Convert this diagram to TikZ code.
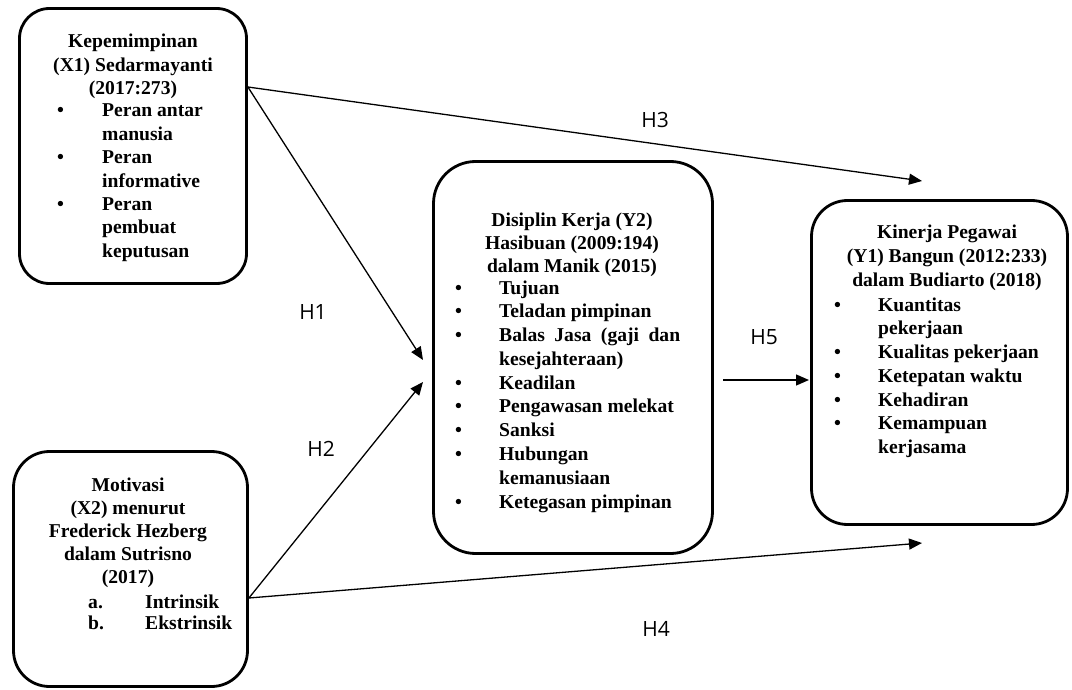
\documentclass[tikz,border=0pt]{standalone}
\usepackage{fontspec}
\setmainfont{Liberation Serif}
\newfontfamily\hfont{Open Sans}
\usetikzlibrary{arrows.meta,calc}
\begin{document}
\begin{tikzpicture}[x=1pt,y=-1pt,
  box/.style={draw, line width=2.8pt, inner sep=0pt},
  head/.style={inner sep=0pt, anchor=base, font=\bfseries\fontsize{19.6}{23.4}\selectfont},
  lst/.style={inner sep=0pt, anchor=base west, font=\bfseries\fontsize{19.6}{23.4}\selectfont},
  lstw/.style={inner sep=0pt, anchor=base west, font=\bfseries\fontsize{19.6}{23.8}\selectfont},
  arr/.style={line width=1.3pt, -{Triangle[length=13pt,width=11pt]}},
  hlab/.style={font=\hfont\fontsize{21}{25}\selectfont, inner sep=0pt}]
\useasboundingbox (0,0) rectangle (1072,690);

% boxes
\node[box, rounded corners=30pt, minimum width=227pt, minimum height=275pt] (A) at (133,146) {};
\node[box, rounded corners=36pt, minimum width=234pt, minimum height=235pt] (B) at (130.5,569) {};
\node[box, rounded corners=42pt, minimum width=279pt, minimum height=392pt] (C) at (573,357.5) {};
\node[box, rounded corners=36pt, minimum width=256pt, minimum height=324pt] (D) at (939.5,362.5) {};

% box A text
\node[head] (Ah) at (133,48) {\begin{tabular}[t]{@{}c@{}}Kepemimpinan\\(X1) Sedarmayanti\\(2017:273)\end{tabular}};
\node[lst] (Al) at (57,117) {\begin{tabular}[t]{@{}p{45pt}@{}l@{}}
\textbullet & Peran antar\\ & manusia\\
\textbullet & Peran\\ & informative\\
\textbullet & Peran\\ & pembuat\\ & keputusan\end{tabular}};

% box B text
\node[head, font=\bfseries\fontsize{19.6}{23.2}\selectfont] (Bh) at (128,491) {\begin{tabular}[t]{@{}c@{}}Motivasi\\(X2) menurut\\Frederick Hezberg\\dalam Sutrisno\\(2017)\end{tabular}};
\node[lst, font=\bfseries\fontsize{19.6}{21.5}\selectfont] (Bl) at (88,608) {\begin{tabular}[t]{@{}p{57pt}@{}l@{}}
a. & Intrinsik\\ b. & Ekstrinsik\end{tabular}};

% box C text
\node[head] (Ch) at (572,226) {\begin{tabular}[t]{@{}c@{}}Disiplin Kerja (Y2)\\Hasibuan (2009:194)\\dalam Manik (2015)\end{tabular}};
\node[lstw] (Cl) at (455,294) {\begin{tabular}[t]{@{}p{44pt}@{}l@{}}
\textbullet & Tujuan\\
\textbullet & Teladan pimpinan\\
\textbullet & \makebox[181pt][s]{Balas Jasa (gaji dan}\\ & kesejahteraan)\\
\textbullet & Keadilan\\
\textbullet & Pengawasan melekat\\
\textbullet & Sanksi\\
\textbullet & Hubungan\\ & kemanusiaan\\
\textbullet & Ketegasan pimpinan\end{tabular}};

% box D text
\node[head, font=\bfseries\fontsize{19.6}{24}\selectfont] (Dh) at (947,239) {\begin{tabular}[t]{@{}c@{}}Kinerja Pegawai\\(Y1) Bangun (2012:233)\\dalam Budiarto (2018)\end{tabular}};
\node[lstw] (Dl) at (834,311) {\begin{tabular}[t]{@{}p{44pt}@{}l@{}}
\textbullet & Kuantitas\\ & pekerjaan\\
\textbullet & Kualitas pekerjaan\\
\textbullet & Ketepatan waktu\\
\textbullet & Kehadiran\\
\textbullet & Kemampuan\\ & kerjasama\end{tabular}};

% connector end points
\coordinate (Aout) at (A.east |- 0,87);
\coordinate (Bout) at (B.east |- 0,598);
\coordinate (C1) at (423,360);
\coordinate (C2) at (423,382);
\coordinate (D3) at (922,181);
\coordinate (D4) at (922,543);
\coordinate (C5) at (723,380);
\coordinate (D5) at (809,380);

% arrows
\draw[arr] (Aout) -- (C1);
\draw[arr] (Aout) -- (D3);
\draw[arr] (Bout) -- (C2);
\draw[arr] (Bout) -- (D4);
\draw[arr] (C5) -- (D5);

% labels
\node[hlab] (h1) at (313,312) {H1};
\node[hlab] (h2) at (321,449) {H2};
\node[hlab] (h3) at (655,120) {H3};
\node[hlab] (h4) at (656,629) {H4};
\node[hlab] (h5) at (764,337) {H5};
\end{tikzpicture}
\end{document}
